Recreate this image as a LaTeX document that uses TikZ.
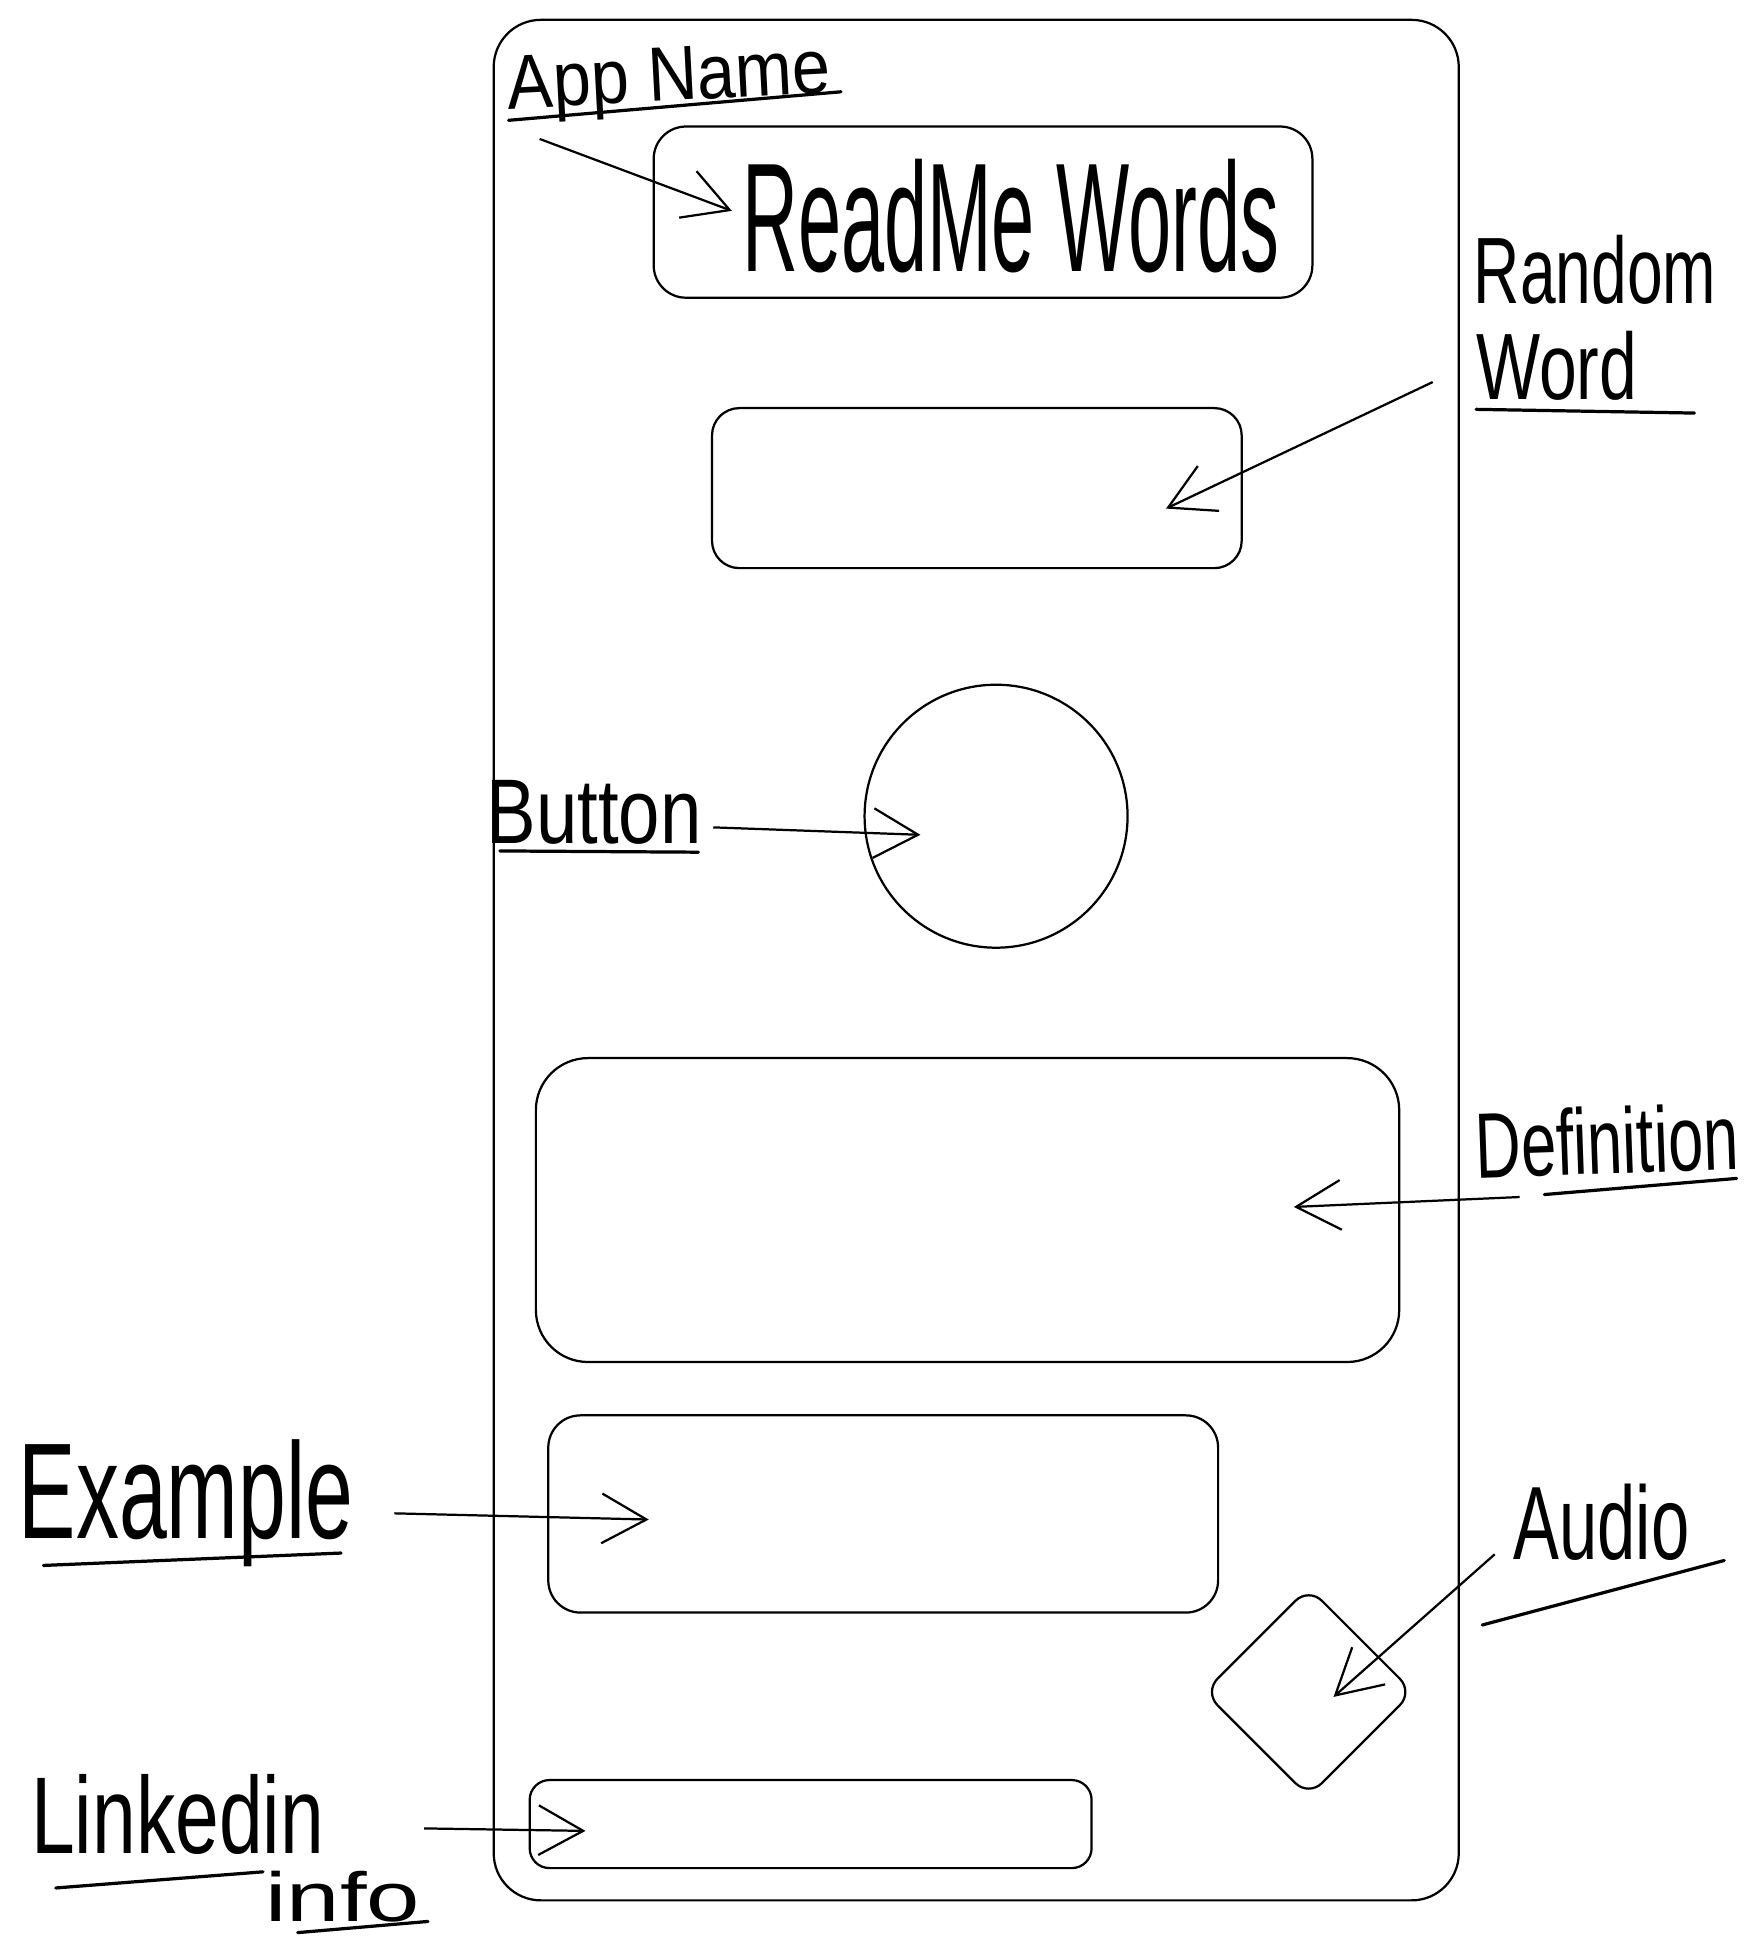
\documentclass[tikz,border=0pt]{standalone}
\usepackage{fontspec}
\setmainfont{Liberation Sans}
\usepackage{graphicx}
\usetikzlibrary{arrows.meta}
\newcommand\hw[3]{\fontsize{#1}{#1}\selectfont\scalebox{#2}[1]{#3}}
\begin{document}
\begin{tikzpicture}[x=1pt,y=1pt,
  box/.style={draw, line width=1.8pt, rounded corners=#1, inner sep=0pt},
  box/.default=20pt,
  lbl/.style={inner sep=0pt, anchor=base west},
  arr/.style={line width=1.8pt, -{Straight Barb[length=36pt,width=40pt]}},
  ul/.style={line width=2.6pt, line cap=round}]
\useasboundingbox (0,0) rectangle (1418,-1568);

% phone frame and widgets
\node[box=38pt, minimum width=778pt, minimum height=1516pt] (frame) at (787,-774) {};
\node[box=26pt, minimum width=531pt, minimum height=138pt] (titlebox) at (792.5,-171) {};
\node[lbl] (title) at (598,-219) {\hw{125}{0.5}{ReadMe Words}};
\node[box=22pt, minimum width=427pt, minimum height=129pt] (wordbox) at (787.5,-393.5) {};
\node[draw, circle, line width=1.8pt, minimum size=212pt, inner sep=0pt] (button) at (803,-658) {};
\node[box=42pt, minimum width=696pt, minimum height=245pt] (defbox) at (780,-975.5) {};
\node[box=26pt, minimum width=540pt, minimum height=159pt] (exbox) at (712,-1220.5) {};
\node[box=15pt, minimum size=119pt, rotate=45] (audio) at (1055,-1364) {};
\node[box=16pt, minimum width=453pt, minimum height=71pt] (linkbar) at (653.5,-1470.5) {};

% labels
\node[lbl, rotate=3] (lblApp) at (410,-88) {\hw{62}{0.89}{App Name}};
\node[lbl] (lblRandom) at (1188,-245) {\hw{76}{0.68}{Random}};
\node[lbl] (lblWord) at (1190,-322) {\hw{76}{0.72}{Word}};
\node[lbl] (lblButton) at (392,-680) {\hw{74}{0.81}{Button}};
\node[lbl, rotate=2] (lblDef) at (1190,-950) {\hw{75}{0.68}{Definition}};
\node[lbl] (lblEx) at (15,-1240) {\hw{110}{0.63}{Example}};
\node[lbl] (lblAudio) at (1220,-1257) {\hw{84}{0.66}{Audio}};
\node[lbl] (lblLink) at (25,-1494) {\hw{88}{0.72}{Linkedin}};
\node[lbl] (lblInfo) at (214,-1549) {\hw{56}{1.38}{info}};

% underlines
\draw[ul] (410,-97) -- (678,-74);
\draw[ul] (1190,-330) -- (1366,-333);
\draw[ul] (403,-686) -- (563,-687);
\draw[ul] (1245,-963) -- (1400,-950);
\draw[ul] (35,-1262) -- (275,-1252);
\draw[ul] (1195,-1310) -- (1390,-1258);
\draw[ul] (45,-1522) -- (212,-1509);
\draw[ul] (240,-1558) -- (345,-1549);

% arrow ends
\coordinate (appTail) at (435,-112);   \coordinate (appTip) at (590,-170);
\coordinate (rwTail) at (1155,-308);   \coordinate (rwTip) at (940,-410);
\coordinate (btTail) at (575,-667);    \coordinate (btTip) at (742,-673);
\coordinate (dfTail) at (1225,-965);   \coordinate (dfTip) at (1043,-973);
\coordinate (exTail) at (318,-1220);   \coordinate (exTip) at (523,-1225);
\coordinate (auTail) at (1205,-1253);  \coordinate (auTip) at (1075,-1368);
\coordinate (lkTail) at (342,-1474);   \coordinate (lkTip) at (472,-1476);

\draw[arr] (appTail) -- (appTip);
\draw[arr] (rwTail) -- (rwTip);
\draw[arr] (btTail) -- (btTip);
\draw[arr] (dfTail) -- (dfTip);
\draw[arr] (exTail) -- (exTip);
\draw[arr] (auTail) -- (auTip);
\draw[arr] (lkTail) -- (lkTip);
\end{tikzpicture}
\end{document}
